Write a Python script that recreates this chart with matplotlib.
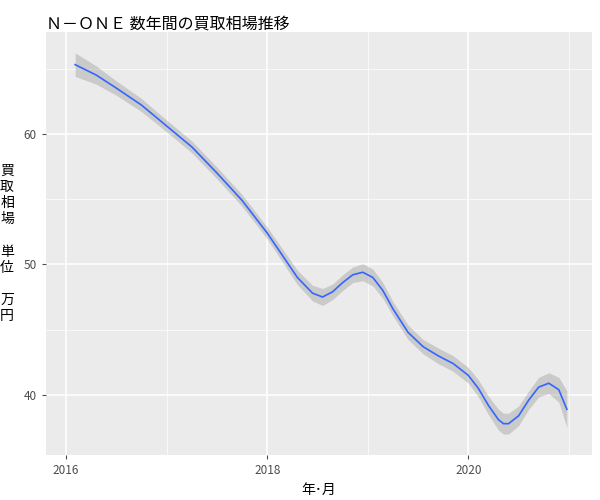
import matplotlib
matplotlib.use("Agg")
import matplotlib.pyplot as plt

plt.rcParams['font.family'] = ['Noto Sans CJK JP', 'DejaVu Sans']

years = [2016.09, 2016.3, 2016.5, 2016.75, 2017.0, 2017.25, 2017.5, 2017.75, 2018.0, 2018.15,
         2018.3, 2018.45, 2018.55, 2018.65, 2018.75, 2018.85, 2018.95, 2019.05, 2019.15, 2019.25, 2019.4, 2019.55,
         2019.7, 2019.85, 2020.0, 2020.1, 2020.2, 2020.3, 2020.35, 2020.4, 2020.5, 2020.6, 2020.7,
         2020.8, 2020.9, 2020.98]
price = [65.3, 64.5, 63.5, 62.2, 60.6, 59.0, 57.0, 54.9, 52.4, 50.7,
         49.0, 47.8, 47.5, 47.9, 48.6, 49.2, 49.4, 49.0, 48.0, 46.6, 44.8, 43.7,
         43.0, 42.4, 41.5, 40.5, 39.2, 38.1, 37.8, 37.8, 38.4, 39.6, 40.6,
         40.9, 40.4, 38.9]
ci = [0.9, 0.7, 0.55, 0.5, 0.45, 0.45, 0.45, 0.45, 0.45, 0.5,
      0.55, 0.6, 0.65, 0.6, 0.6, 0.6, 0.65, 0.65, 0.6, 0.55, 0.55, 0.55,
      0.6, 0.6, 0.6, 0.65, 0.7, 0.8, 0.8, 0.8, 0.75, 0.7, 0.75,
      0.8, 0.95, 1.4]

fig = plt.figure(figsize=(6, 5), dpi=100)
ax = fig.add_axes([46/600, 45/500, 546/600, 423/500])
ax.set_facecolor('#EBEBEB')
lo = [p - c for p, c in zip(price, ci)]
hi = [p + c for p, c in zip(price, ci)]
ax.fill_between(years, lo, hi, color='#999999', alpha=0.4, linewidth=0)
ax.plot(years, price, color='#3366FF', lw=1.2)
ax.set_xlim(2015.8, 2021.23)
ax.set_ylim(35.4, 67.8)
ax.set_xticks([2016, 2018, 2020])
ax.set_yticks([40, 50, 60])
ax.set_xticks([2017, 2019, 2021], minor=True)
ax.set_yticks([45, 55, 65], minor=True)
ax.grid(True, which='major', color='white', lw=1.1)
ax.grid(True, which='minor', color='white', lw=0.5)
ax.set_axisbelow(True)
for s in ax.spines.values():
    s.set_visible(False)
ax.tick_params(which='both', colors='#4D4D4D', labelsize=8.5, length=3)
ax.tick_params(which='minor', length=0)
for lbl in ax.get_xticklabels() + ax.get_yticklabels():
    lbl.set_color('#4D4D4D')
ax.set_xlabel('年･月', fontsize=10)
ax.set_ylabel('買\n取\n相\n場\n\n単\n位\n\n万\n円', rotation=0, fontsize=10,
              labelpad=12, va='center', linespacing=1.2)
fig.text(46/600, 476/500, 'Ｎ－ＯＮＥ 数年間の買取相場推移', fontsize=11.5, va='center')
fig.savefig('out.png')
